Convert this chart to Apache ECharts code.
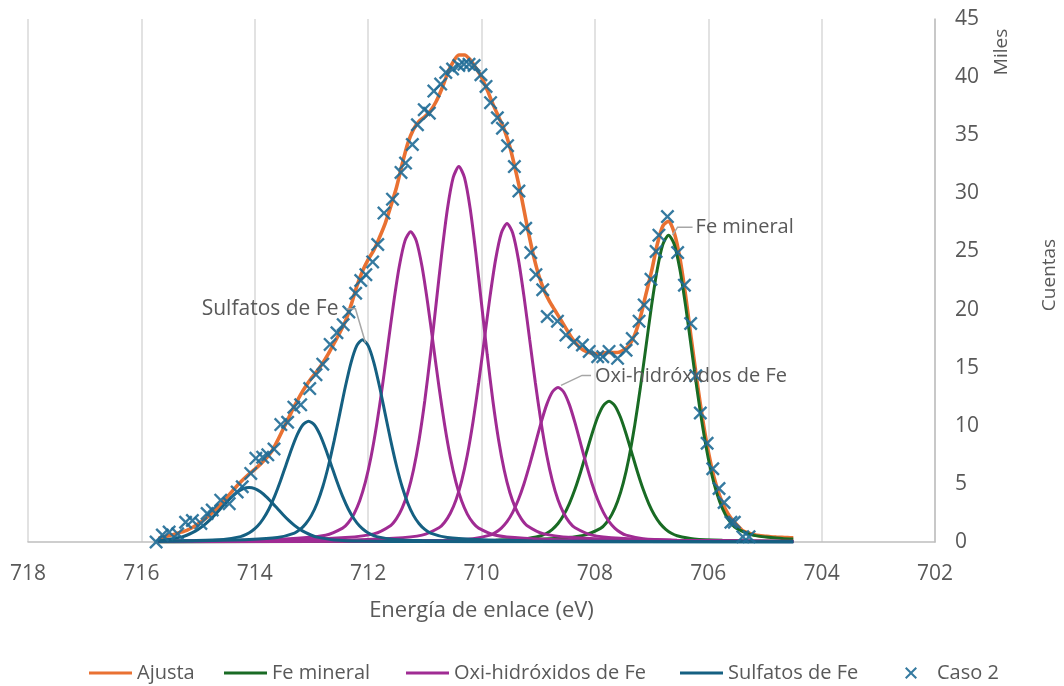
<!DOCTYPE html>
<html>
<head>
<meta charset="utf-8">
<script src="https://cdn.jsdelivr.net/npm/echarts@6/dist/echarts.min.js"></script>
<style>
  html, body { margin: 0; padding: 0; background: #ffffff; }
  #chart { width: 1064px; height: 686px; }
</style>
</head>
<body>
<div id="chart"></div>
<script>
// Fe 2p3/2 XPS fit: binding energy (eV) vs counts (thousands)

// Fitted envelope
const ajustaEnergia = [
  715.7, 715.6, 715.5, 715.4, 715.3, 715.2, 715.1, 715.0, 714.9, 714.8,
  714.7, 714.6, 714.5, 714.4, 714.3, 714.2, 714.1, 714.0, 713.9, 713.8,
  713.7, 713.6, 713.5, 713.4, 713.3, 713.2, 713.1, 713.0, 712.9, 712.8,
  712.7, 712.6, 712.5, 712.4, 712.3, 712.2, 712.1, 712.0, 711.9, 711.8,
  711.7, 711.6, 711.5, 711.4, 711.3, 711.2, 711.1, 711.0, 710.9, 710.8,
  710.7, 710.6, 710.5, 710.4, 710.3, 710.2, 710.1, 710.0, 709.9, 709.8,
  709.7, 709.6, 709.5, 709.4, 709.3, 709.2, 709.1, 709.0, 708.9, 708.8,
  708.7, 708.6, 708.5, 708.4, 708.3, 708.2, 708.1, 708.0, 707.9, 707.8,
  707.7, 707.6, 707.5, 707.4, 707.3, 707.2, 707.1, 707.0, 706.9, 706.8,
  706.7, 706.6, 706.5, 706.4, 706.3, 706.2, 706.1, 706.0, 705.9, 705.8,
  705.7, 705.6, 705.5, 705.4, 705.3, 705.2, 705.1, 705.0, 704.9, 704.8,
  704.7, 704.6, 704.5
];
const ajustaCuentas = [
  0.3, 0.45, 0.55, 0.7, 0.85, 1.0, 1.25, 1.55, 1.9, 2.3,
  2.75, 3.25, 3.8, 4.35, 4.9, 5.4, 5.85, 6.25, 6.7, 7.2,
  7.8, 8.7, 9.7, 10.7, 11.7, 12.6, 13.4, 14.1, 14.7, 15.4,
  16.2, 17.1, 18.0, 19.0, 20.4, 22.0, 23.3, 24.3, 25.1, 26.2,
  27.4, 28.9, 30.5, 32.5, 34.3, 35.5, 36.2, 36.6, 37.1, 37.9,
  39.0, 40.3, 41.3, 41.9, 41.9, 41.5, 40.8, 40.0, 38.9, 37.7,
  36.6, 35.5, 34.0, 32.0, 29.8, 27.3, 25.0, 23.1, 21.7, 20.7,
  19.9, 19.1, 18.3, 17.5, 16.9, 16.5, 16.3, 16.2, 16.2, 16.3,
  16.3, 16.3, 16.5, 16.9, 17.8, 19.3, 21.3, 23.3, 25.6, 27.2,
  27.6, 26.6, 24.4, 21.2, 17.5, 13.9, 10.6, 7.8, 5.6, 4.0,
  2.85, 2.05, 1.5, 1.0, 0.8, 0.65, 0.55, 0.5, 0.45, 0.42,
  0.4, 0.38, 0.36
];

// Fe mineral components [eV, thousands]
const feMineral1 = [
  [715.7, 0.01], [710.75, 0.065], [709.75, 0.14], [709.25, 0.26], [708.95, 0.54],
  [708.85, 0.75], [708.75, 1.09], [708.65, 1.59], [708.55, 2.32], [708.45, 3.31],
  [708.35, 4.56], [708.25, 6.05], [708.15, 7.69], [708.05, 9.32], [707.95, 10.75],
  [707.85, 11.74], [707.75, 12.1], [707.65, 11.74], [707.55, 10.75], [707.45, 9.32],
  [707.35, 7.69], [707.25, 6.05], [707.15, 4.56], [707.05, 3.31], [706.95, 2.32],
  [706.85, 1.59], [706.75, 1.09], [706.65, 0.75], [706.55, 0.54], [706.25, 0.26],
  [705.75, 0.14], [704.75, 0.065], [704.5, 0.058]
];
const feMineral2 = [
  [715.7, 0.016], [709.7, 0.14], [708.7, 0.31], [708.2, 0.57], [707.9, 1.17],
  [707.8, 1.64], [707.7, 2.38], [707.6, 3.48], [707.5, 5.07], [707.4, 7.21],
  [707.3, 9.95], [707.2, 13.2], [707.1, 16.77], [707.0, 20.34], [706.9, 23.45],
  [706.8, 25.62], [706.7, 26.4], [706.6, 25.62], [706.5, 23.45], [706.4, 20.34],
  [706.3, 16.77], [706.2, 13.2], [706.1, 9.95], [706.0, 7.21], [705.9, 5.07],
  [705.8, 3.48], [705.7, 2.38], [705.6, 1.64], [705.5, 1.17], [705.2, 0.57],
  [704.7, 0.31], [704.5, 0.26]
];

// Oxi-hydroxide components
const oxi1 = [
  [715.7, 0.064], [714.25, 0.14], [713.25, 0.32], [712.75, 0.58], [712.45, 1.19],
  [712.35, 1.66], [712.25, 2.4], [712.15, 3.52], [712.05, 5.12], [711.95, 7.29],
  [711.85, 10.06], [711.75, 13.35], [711.65, 16.96], [711.55, 20.57], [711.45, 23.72],
  [711.35, 25.91], [711.25, 26.7], [711.15, 25.91], [711.05, 23.72], [710.95, 20.57],
  [710.85, 16.96], [710.75, 13.35], [710.65, 10.06], [710.55, 7.29], [710.45, 5.12],
  [710.35, 3.52], [710.25, 2.4], [710.15, 1.66], [710.05, 1.19], [709.75, 0.58],
  [709.25, 0.32], [708.25, 0.14], [706.25, 0.053], [704.5, 0.028]
];
const oxi2 = [
  [715.7, 0.055], [713.4, 0.17], [712.4, 0.38], [711.9, 0.7], [711.6, 1.43],
  [711.5, 2.01], [711.4, 2.91], [711.3, 4.26], [711.2, 6.2], [711.1, 8.82],
  [711.0, 12.17], [710.9, 16.15], [710.8, 20.52], [710.7, 24.88], [710.6, 28.7],
  [710.5, 31.35], [710.4, 32.3], [710.3, 31.35], [710.2, 28.7], [710.1, 24.88],
  [710.0, 20.52], [709.9, 16.15], [709.8, 12.17], [709.7, 8.82], [709.6, 6.2],
  [709.5, 4.26], [709.4, 2.91], [709.3, 2.01], [709.2, 1.43], [708.9, 0.7],
  [708.4, 0.38], [707.4, 0.17], [704.5, 0.046]
];
const oxi3 = [
  [715.7, 0.036], [712.55, 0.15], [711.55, 0.32], [711.05, 0.59], [710.75, 1.22],
  [710.65, 1.7], [710.55, 2.47], [710.45, 3.61], [710.35, 5.26], [710.25, 7.49],
  [710.15, 10.33], [710.05, 13.7], [709.95, 17.41], [709.85, 21.11], [709.75, 24.34],
  [709.65, 26.59], [709.55, 27.4], [709.45, 26.59], [709.35, 24.34], [709.25, 21.11],
  [709.15, 17.41], [709.05, 13.7], [708.95, 10.33], [708.85, 7.49], [708.75, 5.26],
  [708.65, 3.61], [708.55, 2.47], [708.45, 1.7], [708.35, 1.22], [708.05, 0.59],
  [707.55, 0.32], [706.55, 0.15], [704.5, 0.055]
];
const oxi4 = [
  [715.7, 0.013], [711.65, 0.072], [710.65, 0.16], [710.15, 0.29], [709.85, 0.59],
  [709.75, 0.83], [709.65, 1.2], [709.55, 1.75], [709.45, 2.55], [709.35, 3.63],
  [709.25, 5.01], [709.15, 6.65], [709.05, 8.45], [708.95, 10.25], [708.85, 11.82],
  [708.75, 12.91], [708.65, 13.3], [708.55, 12.91], [708.45, 11.82], [708.35, 10.25],
  [708.25, 8.45], [708.15, 6.65], [708.05, 5.01], [707.95, 3.63], [707.85, 2.55],
  [707.75, 1.75], [707.65, 1.2], [707.55, 0.83], [707.45, 0.59], [707.15, 0.29],
  [706.65, 0.16], [705.65, 0.072], [704.5, 0.039]
];

// Sulfate components
const sulf1 = [
  [715.7, 0.14], [715.6, 0.18], [715.3, 0.42], [715.2, 0.58], [715.1, 0.8],
  [715.0, 1.08], [714.9, 1.43], [714.8, 1.86], [714.7, 2.35], [714.6, 2.88],
  [714.5, 3.41], [714.4, 3.91], [714.3, 4.32], [714.2, 4.6], [714.1, 4.7],
  [714.0, 4.6], [713.9, 4.32], [713.8, 3.91], [713.7, 3.41], [713.6, 2.88],
  [713.5, 2.35], [713.4, 1.86], [713.3, 1.43], [713.2, 1.08], [713.1, 0.8],
  [713.0, 0.58], [712.9, 0.42], [712.6, 0.18], [712.1, 0.08], [711.1, 0.036],
  [709.1, 0.014], [704.5, 0.003]
];
const sulf2 = [
  [715.7, 0.07], [715.05, 0.12], [714.55, 0.22], [714.25, 0.46], [714.15, 0.65],
  [714.05, 0.94], [713.95, 1.37], [713.85, 2.0], [713.75, 2.84], [713.65, 3.92],
  [713.55, 5.2], [713.45, 6.61], [713.35, 8.01], [713.25, 9.24], [713.15, 10.09],
  [713.05, 10.4], [712.95, 10.09], [712.85, 9.24], [712.75, 8.01], [712.65, 6.61],
  [712.55, 5.2], [712.45, 3.92], [712.35, 2.84], [712.25, 2.0], [712.15, 1.37],
  [712.05, 0.94], [711.95, 0.65], [711.85, 0.46], [711.55, 0.22], [711.05, 0.12],
  [710.05, 0.056], [708.0, 0.021], [704.5, 0.007]
];
const sulf3 = [
  [715.7, 0.064], [715.1, 0.094], [714.1, 0.21], [713.6, 0.38], [713.3, 0.77],
  [713.2, 1.08], [713.1, 1.57], [713.0, 2.29], [712.9, 3.34], [712.8, 4.75],
  [712.7, 6.56], [712.6, 8.7], [712.5, 11.05], [712.4, 13.4], [712.3, 15.46],
  [712.2, 16.89], [712.1, 17.4], [712.0, 16.89], [711.9, 15.46], [711.8, 13.4],
  [711.7, 11.05], [711.6, 8.7], [711.5, 6.56], [711.4, 4.75], [711.3, 3.34],
  [711.2, 2.29], [711.1, 1.57], [711.0, 1.08], [710.9, 0.77], [710.6, 0.38],
  [710.1, 0.21], [709.1, 0.094], [707.1, 0.035], [704.5, 0.015]
];

// Measured spectrum (Caso 2)
const casoEnergia = [
  715.74, 715.63, 715.51, 715.36, 715.22, 715.10, 714.95, 714.84, 714.75, 714.60,
  714.45, 714.31, 714.22, 714.07, 713.98, 713.86, 713.77, 713.66, 713.54, 713.42,
  713.31, 713.19, 713.03, 712.92, 712.80, 712.67, 712.55, 712.44, 712.34, 712.22,
  712.13, 712.04, 711.92, 711.83, 711.72, 711.57, 711.42, 711.34, 711.22, 711.13,
  711.01, 710.92, 710.84, 710.72, 710.63, 710.51, 710.40, 710.31, 710.22, 710.13,
  710.01, 709.92, 709.84, 709.72, 709.63, 709.54, 709.42, 709.34, 709.22, 709.13,
  709.04, 708.92, 708.84, 708.66, 708.51, 708.37, 708.22, 708.10, 707.95, 707.86,
  707.75, 707.60, 707.45, 707.34, 707.22, 707.13, 707.01, 706.92, 706.87, 706.72,
  706.54, 706.42, 706.31, 706.22, 706.14, 706.02, 705.92, 705.81, 705.72, 705.60,
  705.54, 705.39, 705.28
];
const casoCuentas = [
  0.0, 0.6, 0.85, 0.7, 1.7, 1.85, 1.6, 2.45, 2.75, 3.6,
  3.3, 4.3, 4.75, 5.9, 7.2, 7.3, 7.5, 8.0, 10.1, 10.3,
  11.6, 11.8, 13.2, 14.4, 15.3, 17.0, 18.0, 18.7, 19.8, 21.4,
  22.5, 23.0, 24.1, 25.6, 28.3, 29.5, 31.8, 32.6, 34.2, 35.9,
  37.2, 36.9, 38.8, 39.4, 40.4, 40.7, 41.0, 41.1, 41.1, 41.0,
  40.2, 39.2, 37.8, 36.5, 35.6, 34.1, 32.3, 30.2, 27.0, 24.9,
  23.0, 21.7, 19.4, 19.0, 17.8, 17.2, 16.95, 16.4, 15.95, 15.95,
  16.4, 15.8, 16.5, 17.5, 19.0, 20.4, 22.6, 25.0, 26.4, 28.0,
  24.9, 22.1, 18.8, 14.3, 11.1, 8.5, 6.3, 4.6, 3.4, 1.7,
  1.7, 0.45, 0.45
];

const FONT = '"Open Sans", "Noto Sans", sans-serif';
const TEXT = '#595959';
const C_AJUSTA = '#E97132';
const C_FE = '#196B24';
const C_OXI = '#A02B93';
const C_SULF = '#156082';
const C_CASO = '#1F6C96';
const X_MARK = 'path://M0,1.2L1.2,0L5,3.8L8.8,0L10,1.2L6.2,5L10,8.8L8.8,10L5,6.2L1.2,10L0,8.8L3.8,5Z';

const pairs = (xs, ys) => xs.map((x, i) => [x, ys[i]]);

function curve(name, data, color, width) {
  return {
    name: name, type: 'line', data: data, symbol: 'none', smooth: 0.25,
    lineStyle: { color: color, width: width }, itemStyle: { color: color },
    emphasis: { disabled: true }, animation: false
  };
}

const series = [
  curve('Ajusta', pairs(ajustaEnergia, ajustaCuentas), C_AJUSTA, 3.6),
  curve('Fe mineral', feMineral1, C_FE, 3),
  curve('Fe mineral', feMineral2, C_FE, 3),
  curve('Oxi-hidróxidos de Fe', oxi1, C_OXI, 3),
  curve('Oxi-hidróxidos de Fe', oxi2, C_OXI, 3),
  curve('Oxi-hidróxidos de Fe', oxi3, C_OXI, 3),
  curve('Oxi-hidróxidos de Fe', oxi4, C_OXI, 3),
  curve('Sulfatos de Fe', sulf1, C_SULF, 3),
  curve('Sulfatos de Fe', sulf2, C_SULF, 3),
  curve('Sulfatos de Fe', sulf3, C_SULF, 3),
  {
    name: 'Caso 2', type: 'scatter', data: pairs(casoEnergia, casoCuentas),
    symbol: X_MARK, symbolSize: 14, itemStyle: { color: C_CASO, opacity: 0.9 },
    emphasis: { disabled: true }, animation: false, z: 5
  }
];

// One legend block per entry so each sits at its own spot along the bottom row
const legendText = { color: TEXT, fontSize: 20, fontFamily: FONT };
function lineLegend(name, left) {
  return {
    data: [name], left: left, top: 658, icon: 'rect', itemWidth: 43, itemHeight: 3,
    selectedMode: false, textStyle: legendText
  };
}

const chart = echarts.init(document.getElementById('chart'), null, { renderer: 'canvas' });

chart.setOption({
  animation: false,
  backgroundColor: '#ffffff',
  textStyle: { fontFamily: FONT },
  grid: { left: 28, right: 129, top: 19, bottom: 144 },
  xAxis: {
    type: 'value', min: 702, max: 718, interval: 2, inverse: true,
    name: 'Energía de enlace (eV)', nameLocation: 'middle', nameGap: 58,
    nameTextStyle: { color: TEXT, fontSize: 22, fontFamily: FONT },
    axisLine: { show: true, lineStyle: { color: '#bfbfbf', width: 1.5 } },
    axisTick: { show: false },
    axisLabel: { color: TEXT, fontSize: 21, margin: 22, fontFamily: FONT },
    splitLine: { show: true, lineStyle: { color: '#d9d9d9', width: 1.5 } }
  },
  yAxis: {
    type: 'value', position: 'right', min: 0, max: 45, interval: 5,
    axisLine: { show: true, lineStyle: { color: '#bfbfbf', width: 1.5 } },
    axisTick: { show: false },
    axisLabel: { color: TEXT, fontSize: 21, margin: 20, fontFamily: FONT },
    splitLine: { show: false }
  },
  legend: [
    lineLegend('Ajusta', 84),
    lineLegend('Fe mineral', 219),
    lineLegend('Oxi-hidróxidos de Fe', 401),
    lineLegend('Sulfatos de Fe', 675),
    {
      data: [{ name: 'Caso 2', icon: X_MARK }],
      left: 900, top: 658, itemWidth: 12, itemHeight: 12,
      selectedMode: false,
      textStyle: { color: TEXT, fontSize: 20, fontFamily: FONT, padding: [0, 0, 0, 15] }
    }
  ],
  series: series
});

// Peak callouts with leader lines, anchored on each component's maximum
function peakOf(data) {
  return data.reduce((a, b) => (b[1] > a[1] ? b : a));
}
function callout(data, text, pts, tx, ty, align, size) {
  const p = chart.convertToPixel({ gridIndex: 0 }, peakOf(data));
  return [
    {
      type: 'polyline', silent: true, z: 10,
      shape: { points: pts.map(d => [p[0] + d[0], p[1] + d[1]]) },
      style: { stroke: '#a6a6a6', lineWidth: 1.5, fill: null }
    },
    {
      type: 'text', silent: true, z: 10, x: p[0] + tx, y: p[1] + ty,
      style: { text: text, fill: TEXT, font: size + 'px ' + FONT, align: align, verticalAlign: 'middle' }
    }
  ];
}

const graphics = []
  .concat(callout(feMineral2, 'Fe mineral', [[4, 0], [9, -8], [24, -8]], 27, -8, 'left', 20))
  .concat(callout(oxi4, 'Oxi-hidróxidos de Fe', [[3, -2], [24, -12], [33, -12]], 37, -11, 'left', 20))
  .concat(callout(sulf3, 'Sulfatos de Fe', [[3, 3], [-7, -31], [-16, -31]], -24, -31, 'right', 21));

graphics.push(
  {
    type: 'text', silent: true, x: 1002, y: 52, rotation: Math.PI / 2,
    style: { text: 'Miles', fill: TEXT, font: '19px ' + FONT, align: 'center', verticalAlign: 'middle' }
  },
  {
    type: 'text', silent: true, x: 1050, y: 275, rotation: Math.PI / 2,
    style: { text: 'Cuentas', fill: TEXT, font: '19px ' + FONT, align: 'center', verticalAlign: 'middle' }
  }
);

chart.setOption({ graphic: graphics });
</script>
</body>
</html>
